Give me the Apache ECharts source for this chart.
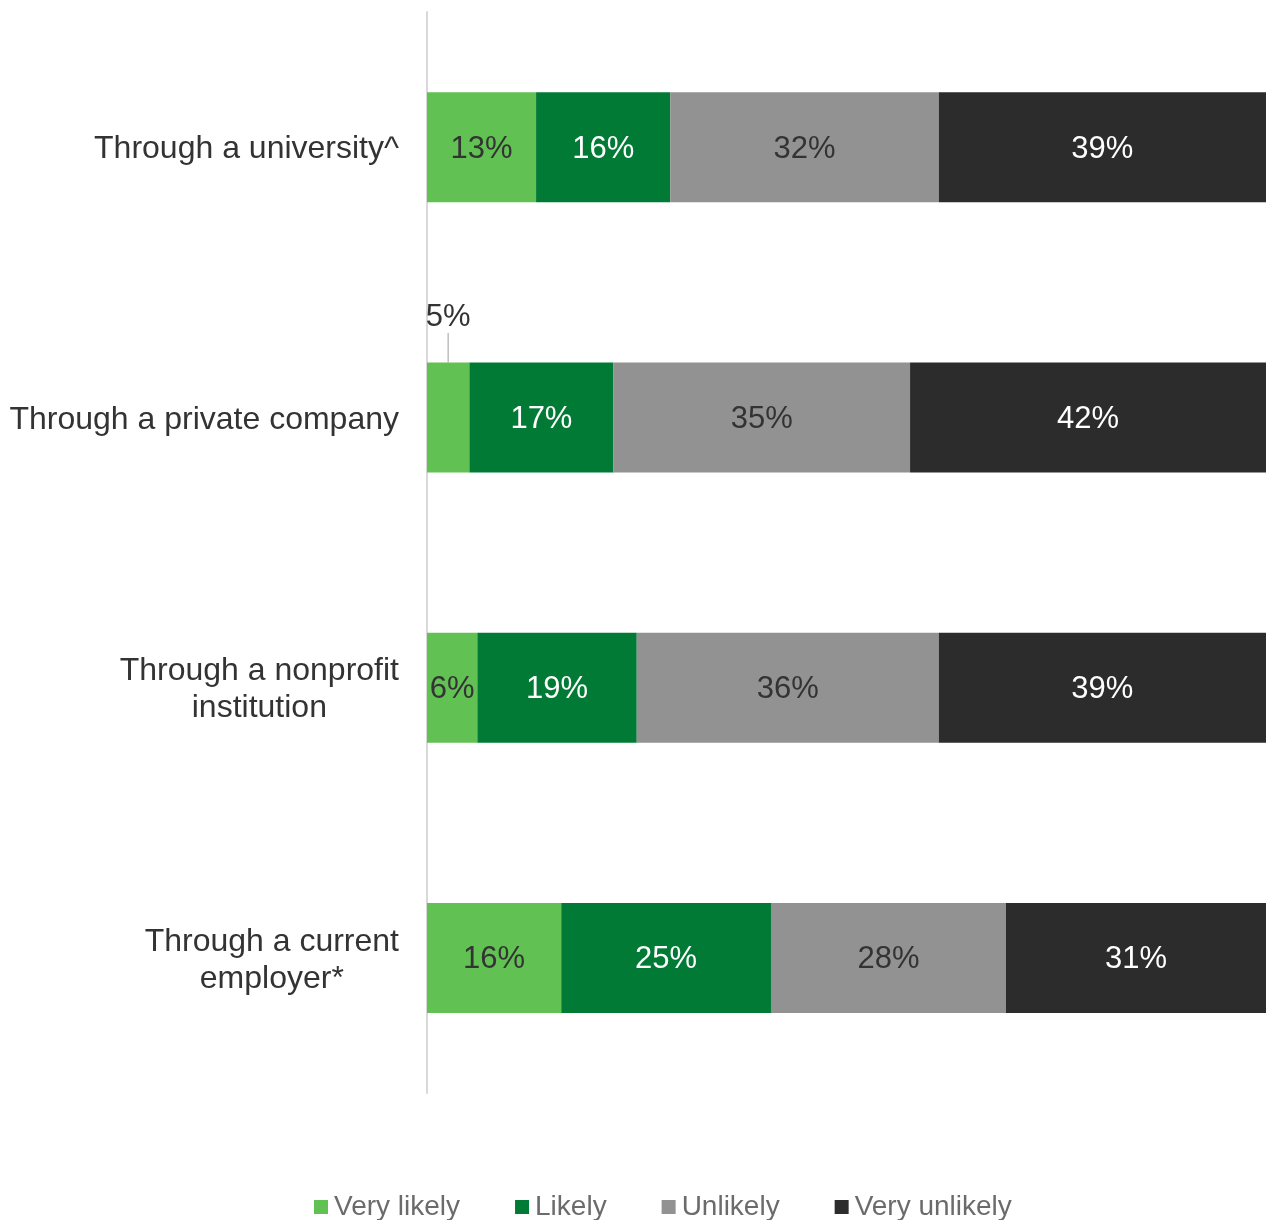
<!DOCTYPE html>
<html>
<head>
<meta charset="utf-8">
<script src="https://cdn.jsdelivr.net/npm/echarts@6/dist/echarts.min.js"></script>
<style>
  html, body { margin: 0; padding: 0; background: #ffffff; }
  #chart { width: 1266px; height: 1220px; }
</style>
</head>
<body>
<div id="chart"></div>
<script>
// Delivery channels, top to bottom
const categories = [
  'Through a university^',
  'Through a private company',
  'Through a nonprofit\ninstitution',
  'Through a current\nemployer*'
];

// Response shares (%) per channel
const veryLikely   = [13, 5, 6, 16];
const likely       = [16, 17, 19, 25];
const unlikely     = [32, 35, 36, 28];
const veryUnlikely = [39, 42, 39, 31];

const seriesNames = ['Very likely', 'Likely', 'Unlikely', 'Very unlikely'];
const seriesColors = ['#62C153', '#007A35', '#929292', '#2C2C2C'];
const labelColors = ['#333333', '#ffffff', '#333333', '#ffffff'];
const allValues = [veryLikely, likely, unlikely, veryUnlikely];

// 100% stacked: each row is scaled to its own total
const rowTotals = categories.map((_, i) => allValues.reduce((s, arr) => s + arr[i], 0));

const FONT = 'Liberation Sans, Arial, sans-serif';

const series = allValues.map((vals, si) => ({
  name: seriesNames[si],
  type: 'bar',
  stack: 'total',
  barWidth: 110,
  itemStyle: { color: seriesColors[si] },
  label: {
    show: true,
    position: 'inside',
    offset: [0, 2],
    color: labelColors[si],
    fontSize: 31,
    fontFamily: FONT,
    formatter: (p) => vals[p.dataIndex] + '%'
  },
  labelLine: { show: false },
  // the narrow 5% segment gets its label lifted above the bar
  labelLayout: si === 0 ? function (p) {
    return p.dataIndex === 1 ? { dy: -100 } : { dy: 2 };
  } : undefined,
  data: vals.map((v, i) => {
    const item = { value: v / rowTotals[i] * 100 };
    if (si === 0 && i === 1) {
      item.labelLine = { show: true, lineStyle: { color: '#BFBFBF', width: 1.5 } };
    }
    return item;
  })
}));

const chart = echarts.init(document.getElementById('chart'), null, { renderer: 'canvas' });
chart.setOption({
  backgroundColor: '#ffffff',
  animation: false,
  grid: { left: 427, right: 0, top: 12, bottom: 127, containLabel: false },
  xAxis: {
    type: 'value',
    min: 0,
    max: 100,
    show: false
  },
  yAxis: {
    type: 'category',
    inverse: true,
    data: categories,
    axisLine: { show: true, lineStyle: { color: '#D9D9D9', width: 2 } },
    axisTick: { show: false },
    splitLine: { show: false },
    axisLabel: {
      margin: 28,
      align: 'right',
      lineHeight: 37,
      padding: [5, 0, 0, 0],
      formatter: (name) => name.split('\n').map(l => '{c|' + l + '}').join('\n'),
      rich: {
        c: {
          align: 'center',
          fontSize: 32,
          lineHeight: 37,
          color: '#333333',
          fontFamily: FONT
        }
      }
    }
  },
  legend: {
    left: 309,
    top: 1188,
    icon: 'rect',
    itemWidth: 14,
    itemHeight: 14,
    itemGap: 55,
    data: seriesNames,
    textStyle: { fontSize: 28, color: '#6B6B6B', fontFamily: FONT, padding: [0, 0, 0, 1] }
  },
  series: series
});
</script>
</body>
</html>
